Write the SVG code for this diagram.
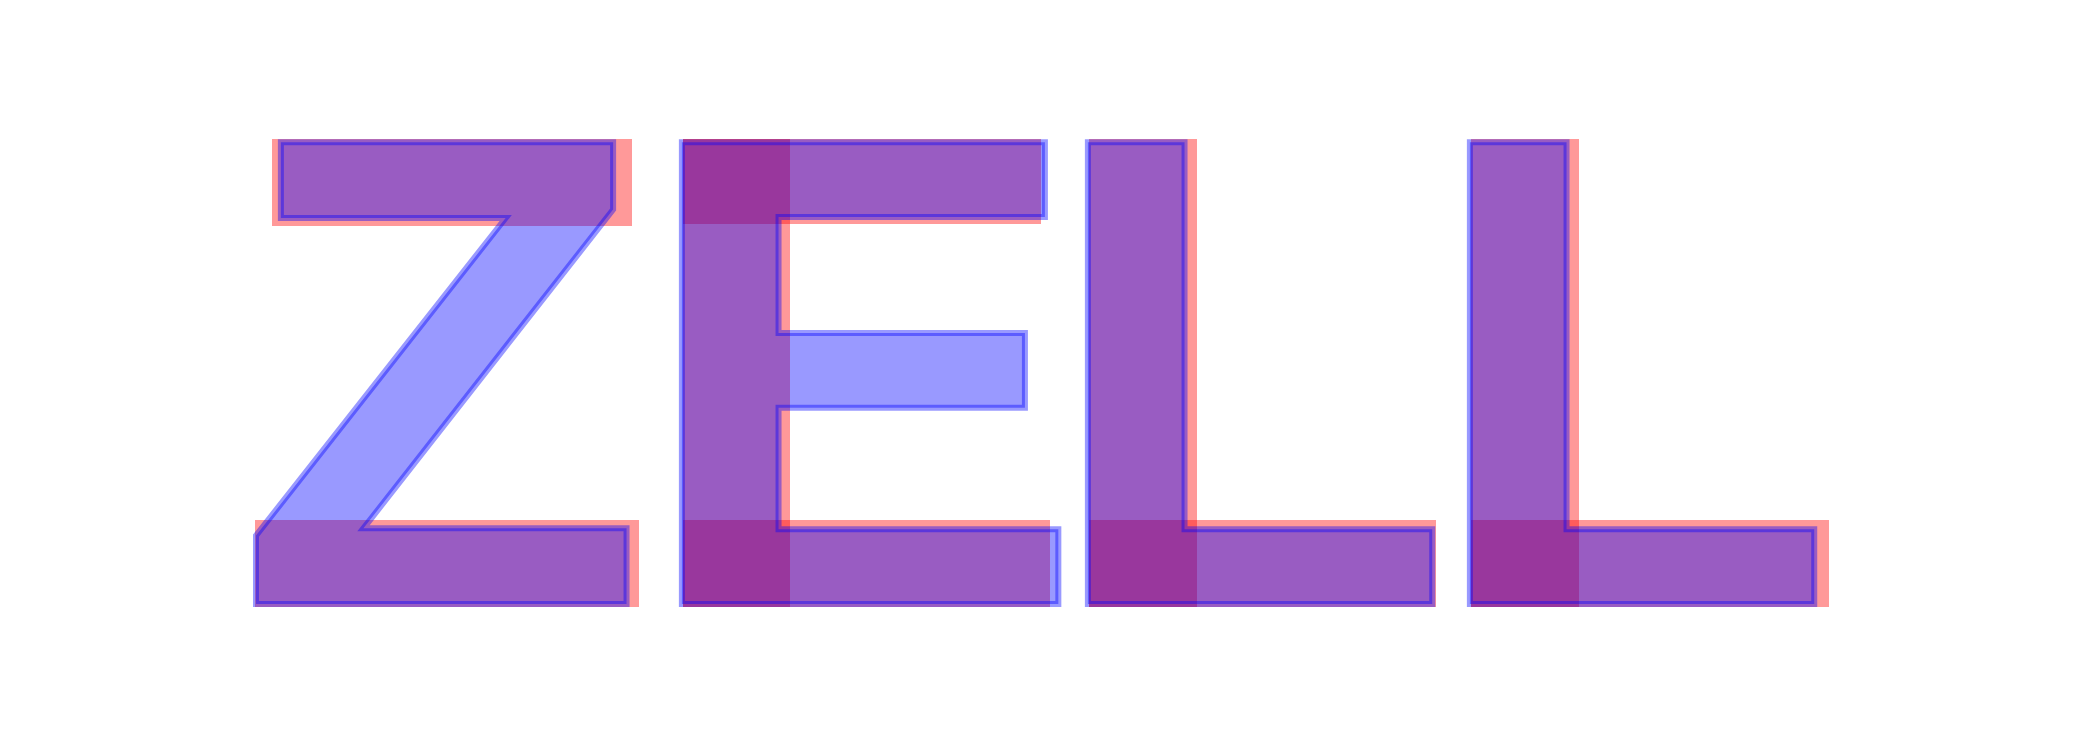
<svg xmlns="http://www.w3.org/2000/svg" width="2098" height="750" viewBox="0 0 2098 750">
<style>
.lt{font-family:"Liberation Sans",Arial,sans-serif;font-weight:bold;font-size:671px;fill:#0000ff;fill-opacity:0.4;stroke:#0000ff;stroke-opacity:0.4;stroke-width:6}
.r{fill:#ff0000;fill-opacity:0.4}
</style>
<rect width="2098" height="750" fill="#ffffff"/>
<rect class="r" x="272" y="139" width="360" height="87"/>
<rect class="r" x="255" y="520" width="384" height="87"/>
<rect class="r" x="683" y="139" width="107" height="468"/>
<rect class="r" x="683" y="520" width="367" height="87"/>
<rect class="r" x="683" y="139" width="358" height="85"/>
<rect class="r" x="1089" y="139" width="108" height="468"/>
<rect class="r" x="1089" y="520" width="347" height="87"/>
<rect class="r" x="1471" y="139" width="108" height="468"/>
<rect class="r" x="1471" y="520" width="358" height="87"/>
<text id="logo" class="lt" x="236 637 1043 1425" y="604">ZELL</text>
</svg>
